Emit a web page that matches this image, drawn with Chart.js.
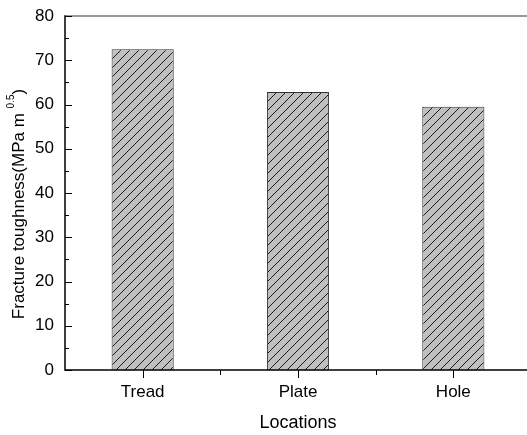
<!DOCTYPE html>
<html>
<head>
<meta charset="utf-8">
<script src="https://cdn.jsdelivr.net/npm/chart.js@4/dist/chart.umd.min.js"></script>
<style>
  html, body { margin: 0; padding: 0; background: #fff; overflow: hidden; }
  #toughnessChart { display: block; }
</style>
</head>
<body>
<canvas id="toughnessChart" width="531" height="435"></canvas>
<script>
// locations along the wheel and measured fracture toughness
let locations = ["Tread", "Plate", "Hole"];
let toughness = [72.5, 62.8, 59.5];
let yTicks = [0, 10, 20, 30, 40, 50, 60, 70, 80];

let fontFamily = "'Liberation Sans', Arial, sans-serif";

let canvas = document.querySelector("#toughnessChart");
let context = canvas.getContext("2d");

// diagonal hatch used as the bar fill
function makeHatch() {
  let size = 9;
  let tile = document.createElement("canvas");
  tile.width = size;
  tile.height = size;
  let t = tile.getContext("2d");
  t.fillStyle = "#c0c0c0";
  t.fillRect(0, 0, size, size);
  t.strokeStyle = "#1a1a1a";
  t.lineWidth = 1;
  t.beginPath();
  t.moveTo(-1, size + 1);
  t.lineTo(size + 1, -1);
  t.moveTo(-2, 2);
  t.lineTo(2, -2);
  t.moveTo(size - 2, size + 2);
  t.lineTo(size + 2, size - 2);
  t.stroke();
  return context.createPattern(tile, "repeat");
}

// axis lines, inward y ticks, outward x ticks and the y title
let axesPlugin = {
  id: "axesPlugin",
  afterDraw(chart) {
    let ctx = chart.ctx;
    let area = chart.chartArea;
    let x = chart.scales.x;
    let y = chart.scales.y;
    ctx.save();

    // top frame line
    ctx.strokeStyle = "#777";
    ctx.lineWidth = 1.5;
    ctx.beginPath();
    ctx.moveTo(area.left, area.top);
    ctx.lineTo(chart.width, area.top);
    ctx.stroke();

    ctx.strokeStyle = "#000";
    ctx.lineWidth = 1.5;
    ctx.beginPath();
    ctx.moveTo(area.left, area.top - 0.75);
    ctx.lineTo(area.left, area.bottom);
    ctx.lineTo(chart.width, area.bottom);
    ctx.stroke();

    // y ticks, major every 10 and minor every 5
    ctx.lineWidth = 1;
    ctx.beginPath();
    for (let v = 0; v <= 80; v += 5) {
      let py = Math.round(y.getPixelForValue(v)) + 0.5;
      let len = v % 10 === 0 ? 7 : 4;
      ctx.moveTo(area.left, py);
      ctx.lineTo(area.left + len, py);
    }
    // x ticks at category centres and between categories
    for (let i = 0; i < locations.length; i++) {
      let px = Math.round(x.getPixelForValue(i)) + 0.5;
      ctx.moveTo(px, area.bottom);
      ctx.lineTo(px, area.bottom + 8);
      let bx = Math.round(x.getPixelForValue(i + 0.5)) + 0.5;
      ctx.moveTo(bx, area.bottom);
      ctx.lineTo(bx, area.bottom + 5);
    }
    ctx.stroke();

    // rotated y title with the superscript exponent
    let main = "Fracture toughness(MPa m";
    let sup = "0.5";
    let close = ")";
    let mainFont = "17px " + fontFamily;
    let supFont = "10px " + fontFamily;
    ctx.font = mainFont;
    let wMain = ctx.measureText(main).width;
    let wClose = ctx.measureText(close).width;
    let wGap = ctx.measureText(" ").width;
    ctx.font = supFont;
    let wSup = ctx.measureText(sup).width;
    let total = wMain + wGap + wSup + wClose;
    let centre = 204;

    ctx.translate(19, centre);
    ctx.rotate(-Math.PI / 2);
    ctx.fillStyle = "#000";
    ctx.textBaseline = "middle";
    ctx.textAlign = "left";
    let start = -total / 2;
    ctx.font = mainFont;
    ctx.fillText(main, start, 0);
    ctx.font = supFont;
    ctx.fillText(sup, start + wMain + wGap, -8);
    ctx.font = mainFont;
    ctx.fillText(close, start + wMain + wGap + wSup, 0);
    ctx.restore();
  },
};

let toughnessChart = new Chart(context, {
  type: "bar",
  data: {
    labels: locations,
    datasets: [
      {
        label: "Fracture toughness",
        data: toughness,
        backgroundColor: makeHatch(),
        borderColor: "#333",
        borderWidth: 1,
        categoryPercentage: 1,
        barPercentage: 0.4,
      },
    ],
  },
  options: {
    responsive: false,
    animation: false,
    layout: { padding: { top: 16, right: 0, left: 0, bottom: 0 } },
    plugins: {
      legend: { display: false },
      tooltip: { enabled: false },
    },
    scales: {
      x: {
        grid: { display: false },
        border: { display: false },
        ticks: {
          color: "#000",
          padding: 4,
          font: { family: fontFamily, size: 17 },
        },
        title: {
          display: true,
          text: "Locations",
          color: "#000",
          font: { family: fontFamily, size: 18 },
          padding: { top: 6, bottom: 1 },
        },
        afterFit(scale) {
          scale.height = 65;
        },
      },
      y: {
        min: 0,
        max: 80,
        grid: { display: false },
        border: { display: false },
        afterBuildTicks(scale) {
          scale.ticks = yTicks.map((v) => ({ value: v }));
        },
        ticks: {
          color: "#000",
          padding: 3,
          font: { family: fontFamily, size: 17 },
        },
        afterFit(scale) {
          scale.width = 65;
        },
      },
    },
  },
  plugins: [axesPlugin],
});
</script>
</body>
</html>
